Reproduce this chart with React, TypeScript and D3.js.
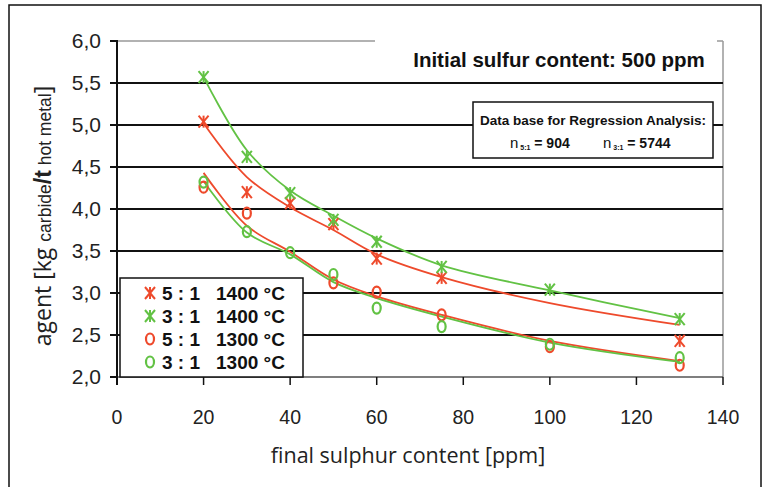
import React from 'react';
import * as d3 from 'd3';

// final sulphur content [ppm] of the measured groups
const sulphur = [20, 30, 40, 50, 60, 75, 100, 130];

// measured agent consumption [kg/t hot metal]
const red1400 = [5.04, 4.2, 4.07, 3.82, 3.41, 3.18, null, 2.43];
const green1400 = [5.57, 4.62, 4.19, 3.87, 3.61, 3.31, 3.04, 2.69];
const red1300 = [4.26, 3.95, null, 3.12, 3.01, 2.74, 2.36, 2.14];
const green1300 = [4.32, 3.73, 3.48, 3.22, 2.82, 2.6, 2.39, 2.23];

// regression curves read at the same sulphur values
const fitRed1400 = [5.02, 4.38, 4.02, 3.75, 3.46, 3.19, 2.88, 2.62];
const fitGreen1400 = [5.57, 4.7, 4.22, 3.92, 3.65, 3.33, 3.03, 2.7];
const fitRed1300 = [4.43, 3.8, 3.49, 3.16, 2.96, 2.74, 2.43, 2.19];
const fitGreen1300 = [4.33, 3.72, 3.46, 3.13, 2.94, 2.72, 2.41, 2.18];

const xTicks = [0, 20, 40, 60, 80, 100, 120, 140];
const yTicks = [2.0, 2.5, 3.0, 3.5, 4.0, 4.5, 5.0, 5.5, 6.0];
const yTickLabels = ['2,0', '2,5', '3,0', '3,5', '4,0', '4,5', '5,0', '5,5', '6,0'];

const legendRatios = ['5 : 1', '3 : 1', '5 : 1', '3 : 1'];
const legendTemps = ['1400 °C', '1400 °C', '1300 °C', '1300 °C'];

const RED = '#ee4a2c';
const GREEN = '#62c244';

const ARIAL = '"Liberation Sans", Arial, sans-serif';
const HUMANIST = '"Open Sans", sans-serif';

const Star = ({x, y, color}) => (
  <g stroke={color} strokeWidth={2} fill="none">
    <line x1={x - 5} y1={y - 6} x2={x + 5} y2={y + 6} />
    <line x1={x - 5} y1={y + 6} x2={x + 5} y2={y - 6} />
    <line x1={x} y1={y - 6} x2={x} y2={y + 6} />
  </g>
);

const Ring = ({x, y, color}) => (
  <ellipse cx={x} cy={y} rx={4} ry={5.5} stroke={color} strokeWidth={2.2} fill="none" />
);

const App = () => {
  const x = d3.scaleLinear().domain([0, 140]).range([117, 723]);
  const y = d3.scaleLinear().domain([2, 6]).range([377, 41]);

  const line = d3.line<[number, number]>()
    .x(d => x(d[0]))
    .y(d => y(d[1]))
    .curve(d3.curveCatmullRom.alpha(0.5));

  const fits = [
    {vals: fitRed1300, color: RED},
    {vals: fitGreen1300, color: GREEN},
    {vals: fitRed1400, color: RED},
    {vals: fitGreen1400, color: GREEN},
  ];

  const points = [
    {vals: red1300, color: RED, kind: 'ring'},
    {vals: green1300, color: GREEN, kind: 'ring'},
    {vals: red1400, color: RED, kind: 'star'},
    {vals: green1400, color: GREEN, kind: 'star'},
  ];

  const legendKinds = [
    {color: RED, kind: 'star'},
    {color: GREEN, kind: 'star'},
    {color: RED, kind: 'ring'},
    {color: GREEN, kind: 'ring'},
  ];

  return (
    <svg width={766} height={487} style={{position: 'absolute', left: 0, top: 0, background: '#fff'}}>
      <rect x={9} y={5} width={752} height={500} fill="#fff" stroke="#111" strokeWidth={1.5} />

      {/* plot frame top and right, grey */}
      <line x1={x(0)} y1={y(6)} x2={x(140)} y2={y(6)} stroke="#999" strokeWidth={1.5} />
      <line x1={x(140)} y1={y(6)} x2={x(140)} y2={y(2)} stroke="#999" strokeWidth={1.5} />

      {/* gridlines */}
      {yTicks.filter(v => v > 2 && v < 6).map(v => (
        <line key={v} x1={x(0)} x2={x(140)} y1={y(v)} y2={y(v)} stroke="#111" strokeWidth={2} />
      ))}

      {/* x axis */}
      <line x1={x(0)} x2={x(140)} y1={y(2)} y2={y(2)} stroke="#555" strokeWidth={1.5} />
      {xTicks.map(t => (
        <g key={t}>
          <line x1={x(t)} x2={x(t)} y1={y(2)} y2={y(2) + 8} stroke="#111" strokeWidth={1.5} />
          <text x={x(t)} y={424} textAnchor="middle" fontFamily={ARIAL} fontSize={19.5} fill="#222">{t}</text>
        </g>
      ))}

      {/* y axis */}
      <line x1={x(0)} x2={x(0)} y1={y(6) - 1} y2={y(2) + 8} stroke="#111" strokeWidth={2} />
      {yTicks.map((v, i) => (
        <g key={v}>
          <line x1={x(0) - 7} x2={x(0)} y1={y(v)} y2={y(v)} stroke="#111" strokeWidth={2} />
          <text x={101} y={y(v) + 7} textAnchor="end" fontFamily={ARIAL} fontSize={21} fill="#222">{yTickLabels[i]}</text>
        </g>
      ))}

      {/* title */}
      <rect x={375} y={30} width={342} height={48} fill="#fff" />
      <text x={559} y={67} textAnchor="middle" fontFamily={ARIAL} fontWeight="bold" fontSize={20.5} fill="#111">
        Initial sulfur content: 500 ppm
      </text>

      {/* regression info box */}
      <rect x={473} y={102} width={240} height={56} fill="#fff" stroke="#111" strokeWidth={1.5} />
      <text x={593} y={125} textAnchor="middle" fontFamily={ARIAL} fontWeight="bold" fontSize={13.5} fill="#111">
        Data base for Regression Analysis:
      </text>
      <text y={148} fontFamily={ARIAL} fontWeight="bold" fontSize={14} fill="#111">
        <tspan x={510} fontWeight="normal" fontSize={15}>n</tspan>
        <tspan fontSize={7} dy={2}> 5:1</tspan>
        <tspan dy={-2}> = 904</tspan>
        <tspan x={603} fontWeight="normal" fontSize={15}>n</tspan>
        <tspan fontSize={7} dy={2}>   3:1</tspan>
        <tspan dy={-2}> = 5744</tspan>
      </text>

      {/* regression curves */}
      {fits.map((f, i) => (
        <path key={i} d={line(sulphur.map((s, j) => [s, f.vals[j]]))} fill="none" stroke={f.color} strokeWidth={1.8} />
      ))}

      {/* measured points */}
      {points.map((p, i) => (
        <g key={i}>
          {sulphur.map((s, j) => {
            const v = p.vals[j];
            if (v == null) return null;
            return p.kind === 'star'
              ? <Star key={j} x={x(s)} y={y(v)} color={p.color} />
              : <Ring key={j} x={x(s)} y={y(v)} color={p.color} />;
          })}
        </g>
      ))}

      {/* legend */}
      <rect x={120} y={278} width={183} height={99} fill="#fff" stroke="#111" strokeWidth={1.5} />
      {legendKinds.map((k, i) => {
        const cy = 293 + i * 23;
        return (
          <g key={i}>
            {k.kind === 'star' ? <Star x={150} y={cy} color={k.color} /> : <Ring x={150} y={cy} color={k.color} />}
            <text x={162} y={cy + 7} fontFamily={ARIAL} fontWeight="bold" fontSize={19} fill="#111">{legendRatios[i]}</text>
            <text x={216} y={cy + 7} fontFamily={ARIAL} fontWeight="bold" fontSize={19} fill="#111">{legendTemps[i]}</text>
          </g>
        );
      })}

      {/* axis titles */}
      <text x={408} y={463} textAnchor="middle" fontFamily={HUMANIST} fontSize={21.5} fill="#222">
        final sulphur content [ppm]
      </text>
      <text transform="translate(51,216) rotate(-90)" textAnchor="middle" fill="#222">
        <tspan fontFamily={HUMANIST} fontSize={23}>agent [kg </tspan>
        <tspan fontFamily={ARIAL} fontSize={17.5}>carbide</tspan>
        <tspan fontFamily={ARIAL} fontSize={23} fontWeight="bold">/t</tspan>
        <tspan fontFamily={ARIAL} fontSize={17.5}> hot metal</tspan>
        <tspan fontFamily={HUMANIST} fontSize={23}>]</tspan>
      </text>
    </svg>
  );
};

export default App;
